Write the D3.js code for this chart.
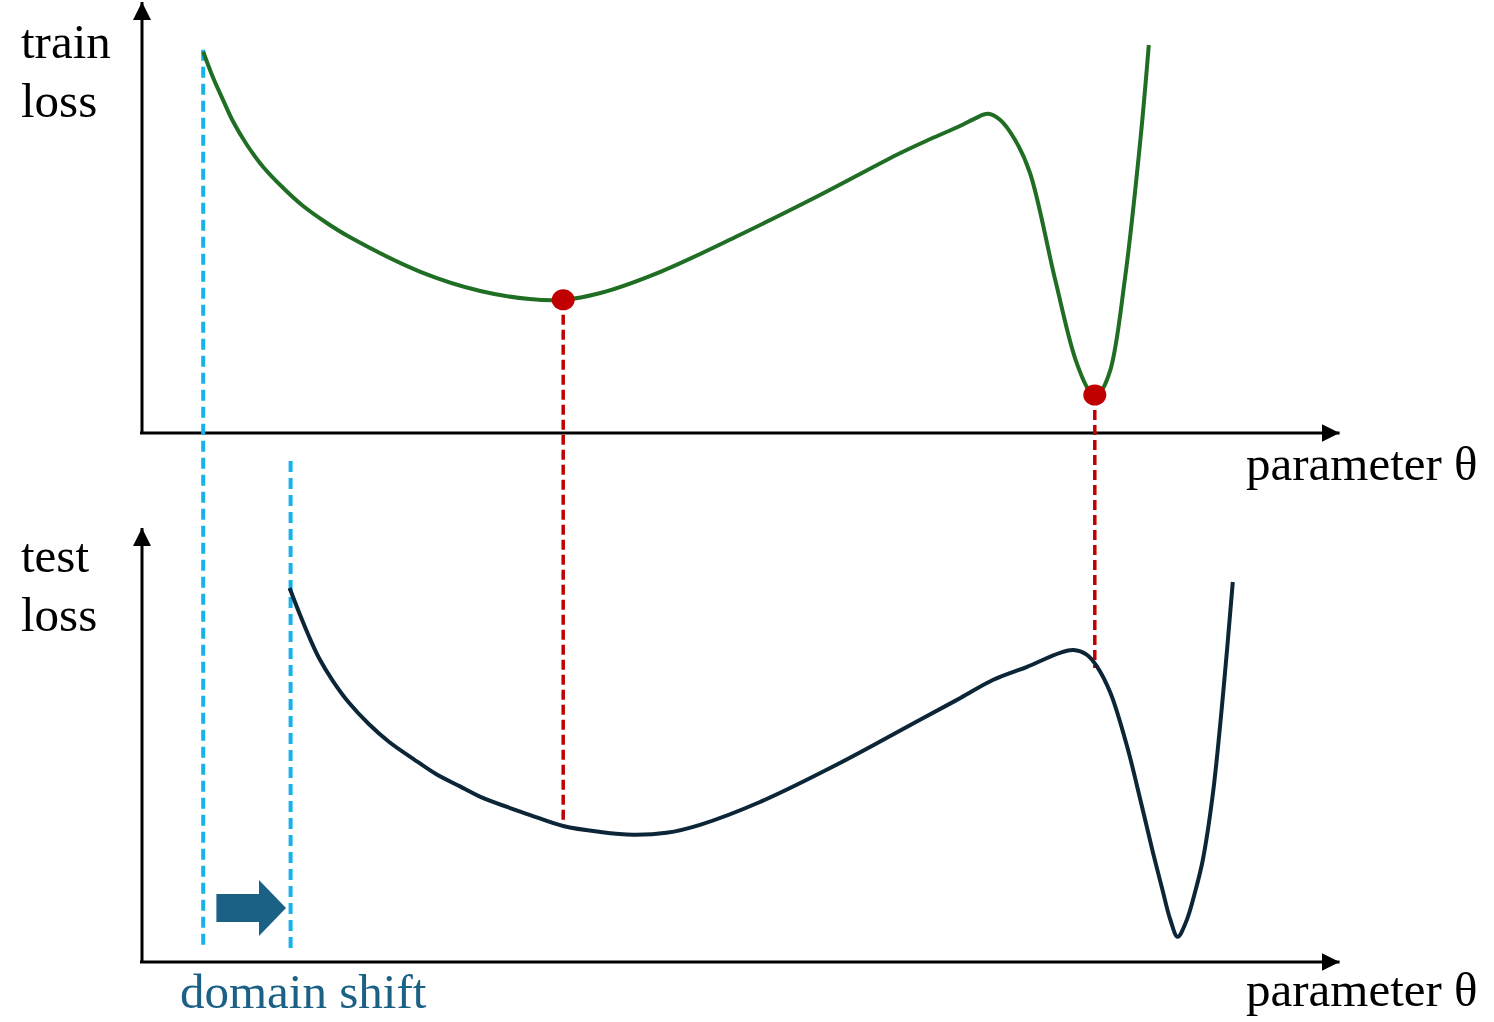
<!DOCTYPE html>
<html><head><meta charset="utf-8">
<script src="https://cdn.jsdelivr.net/npm/d3@7"></script>
<style>html,body{margin:0;padding:0;background:#fff;}svg{display:block;}</style>
</head><body>
<svg id="c" width="1494" height="1022"></svg>
<script>
// parameter θ (0..100) and loss (0..100)
const trainTheta = [5.1, 5.9, 6.75, 7.6, 8.75, 10.1, 11.75, 13.4, 15.4, 17.3, 23.2, 28.2, 32.3, 35.1, 38.2, 43.2, 49.8, 56.5, 63.2, 65.7, 68.2, 69.4, 70.5, 71.5, 72.75, 74.0, 76.1, 77.8, 79.0, 79.4, 79.8, 80.7, 81.9, 83.2, 83.9];
const trainLoss  = [95.3, 89.0, 83.3, 77.8, 72.0, 66.5, 61.3, 56.8, 52.5, 49.0, 40.3, 35.5, 33.5, 33.3, 35.0, 40.3, 49.5, 59.5, 70.0, 73.5, 76.8, 78.6, 79.8, 78.3, 73.3, 65.0, 38.3, 18.3, 10.3, 9.5, 10.0, 15.8, 38.3, 73.3, 97.0];
const testTheta  = [12.3, 13.1, 13.9, 14.75, 15.9, 17.25, 18.9, 20.6, 22.6, 24.5, 26.5, 28.2, 32.3, 35.1, 38.2, 40.9, 43.7, 46.5, 51.5, 58.2, 64.8, 68.2, 70.9, 73.75, 76.5, 77.6, 78.75, 79.6, 80.7, 82.1, 83.2, 84.25, 85.0, 85.7, 86.3, 87.0, 87.8, 88.4, 89.25, 90.1, 90.9];
const testLoss   = [93.5, 87.3, 81.5, 76.0, 70.3, 64.8, 59.5, 55.0, 50.8, 47.0, 43.9, 41.3, 36.8, 34.0, 32.5, 31.8, 32.3, 34.3, 40.0, 49.8, 60.5, 66.0, 70.5, 73.8, 77.3, 78.0, 76.8, 73.8, 67.3, 53.8, 40.5, 27.3, 18.5, 10.5, 6.3, 10.0, 18.0, 25.5, 42.3, 67.3, 95.0];
const minima     = [35.1, 79.4];        // θ of the two train minima
const minimaLoss = [33.3, 9.5];
const testAtMinima = [34.0, 73.5];      // test loss at those θ
const shiftTheta = [5.1, 12.3];         // original / shifted domain start
const axisLabels = ["train\nloss", "test\nloss"];
const xLabel = "parameter θ";
const shiftLabel = "domain shift";

const svg = d3.select("#c");
const x = d3.scaleLinear().domain([0, 100]).range([142, 1342]);
const yTop = d3.scaleLinear().domain([0, 100]).range([433, 33]);
const yBot = d3.scaleLinear().domain([0, 100]).range([962, 562]);

const serif = "'Liberation Serif','Times New Roman',serif";

svg.append("defs").append("marker").attr("id","ah").attr("viewBox","0 0 10 10")
  .attr("refX",10).attr("refY",5).attr("markerWidth",6).attr("markerHeight",6)
  .attr("markerUnits","strokeWidth").attr("orient","auto")
  .append("path").attr("d","M0,0L10,5L0,10Z").attr("fill","#000");

function axes(ys, yTopPx) {
  svg.append("line").attr("x1", x(0)).attr("y1", ys(0)+1).attr("x2", x(0)).attr("y2", yTopPx)
    .attr("stroke","#000").attr("stroke-width",3).attr("marker-end","url(#ah)");
  svg.append("line").attr("x1", x(0)-2).attr("y1", ys(0)).attr("x2", x(99.8)).attr("y2", ys(0))
    .attr("stroke","#000").attr("stroke-width",3).attr("marker-end","url(#ah)");
}
axes(yTop, 2);
axes(yBot, 528);

// blue dashed domain lines
svg.append("line").attr("x1", x(shiftTheta[0])).attr("x2", x(shiftTheta[0]))
  .attr("y1", yTop(95.8)).attr("y2", yBot(4))
  .attr("stroke","#17b2ea").attr("stroke-width",4).attr("stroke-dasharray","11,6");
svg.append("line").attr("x1", x(shiftTheta[1])+1).attr("x2", x(shiftTheta[1])+1)
  .attr("y1", yTop(-7)).attr("y2", yBot(2))
  .attr("stroke","#17b2ea").attr("stroke-width",4).attr("stroke-dasharray","11,6");

// red dashed lines from minima
minima.forEach((m, i) => {
  svg.append("line").attr("x1", x(m)).attr("x2", x(m))
    .attr("y1", yTop(minimaLoss[i])).attr("y2", yBot(testAtMinima[i]))
    .attr("stroke","#c00000").attr("stroke-width",3.5).attr("stroke-dasharray","10,5");
});

const line = (ys) => d3.line().x(d => x(d[0])).y(d => ys(d[1])).curve(d3.curveCatmullRom.alpha(0.5));
svg.append("path").datum(d3.zip(trainTheta, trainLoss)).attr("d", line(yTop))
  .attr("fill","none").attr("stroke","#1f6e24").attr("stroke-width",4);
svg.append("path").datum(d3.zip(testTheta, testLoss)).attr("d", line(yBot))
  .attr("fill","none").attr("stroke","#0c2638").attr("stroke-width",4);

minima.forEach((m, i) => {
  svg.append("ellipse").attr("cx", x(m)).attr("cy", yTop(minimaLoss[i]))
    .attr("rx", 11.5).attr("ry", 10.5).attr("fill","#c00000");
});

// block arrow for the shift
const ay = yBot(13.5);
const ax0 = x(6.2), ax1 = x(12.0), ah = x(9.75);
svg.append("path").attr("fill","#1a6185")
  .attr("d", `M${ax0},${ay-14}L${ah},${ay-14}L${ah},${ay-28}L${ax1},${ay}L${ah},${ay+28}L${ah},${ay+14}L${ax0},${ay+14}Z`);

// texts
function label(lines, px, py) {
  const t = svg.append("text").attr("x", px).attr("y", py)
    .attr("font-family", serif).attr("font-size", 49).attr("fill","#000");
  lines.split("\n").forEach((s, i) => t.append("tspan").attr("x", px).attr("dy", i ? 59 : 0).text(s));
}
label(axisLabels[0], 21, 58);
label(axisLabels[1], 21, 572);
svg.append("text").attr("x", 1246).attr("y", 480).attr("font-family", serif).attr("font-size",49).text(xLabel);
svg.append("text").attr("x", 1246).attr("y", 1006).attr("font-family", serif).attr("font-size",49).text(xLabel);
svg.append("text").attr("x", 180).attr("y", 1008).attr("font-family", serif).attr("font-size",49)
  .attr("fill","#1a6185").text(shiftLabel);
</script>
</body></html>
